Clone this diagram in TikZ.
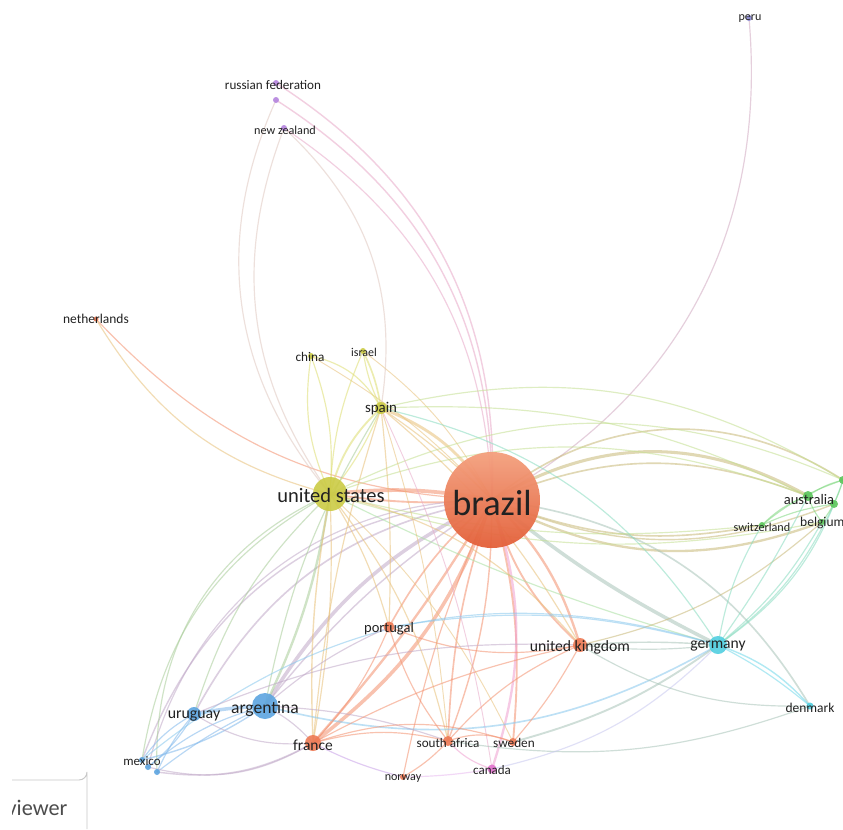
\documentclass[tikz,border=0pt]{standalone}
\usepackage{fontspec}
\setmainfont{Carlito}
\pgfdeclarelayer{back}
\pgfdeclarelayer{bg}
\pgfsetlayers{back,bg,main}
\definecolor{cO}{HTML}{EE7A55}
\definecolor{cOt}{HTML}{F4A07E}
\definecolor{cOb}{HTML}{E35F38}
\definecolor{cY}{HTML}{CBCB45}
\definecolor{cB}{HTML}{5DA5E0}
\definecolor{cC}{HTML}{52CFE0}
\definecolor{cG}{HTML}{5CC65C}
\definecolor{cP}{HTML}{B585DE}
\definecolor{cK}{HTML}{E272CE}
\definecolor{cL}{HTML}{8C8CD8}
\definecolor{eO}{HTML}{F4906E}
\definecolor{eY}{HTML}{DEDE70}
\definecolor{eB}{HTML}{80B8EC}
\definecolor{eC}{HTML}{70D8EA}
\definecolor{eG}{HTML}{80D880}
\definecolor{eP}{HTML}{C8A0E8}
\definecolor{eOY}{HTML}{E8C078}
\definecolor{eOB}{HTML}{C0A8C8}
\definecolor{eOC}{HTML}{A8C4B8}
\definecolor{eOG}{HTML}{C8B878}
\definecolor{eOP}{HTML}{E8A8C8}
\definecolor{eYB}{HTML}{A8CC98}
\definecolor{eYG}{HTML}{C4E090}
\definecolor{eYC}{HTML}{A8E0A0}
\definecolor{eYP}{HTML}{E0C8C0}
\definecolor{eCG}{HTML}{88DCC0}
\definecolor{eBC}{HTML}{88C8EE}
\definecolor{eOK}{HTML}{F0A0D0}
\definecolor{ePK}{HTML}{E8B8F0}
\definecolor{eKC}{HTML}{C8C8F0}
\definecolor{eLO}{HTML}{D0A8C0}
\definecolor{txt}{HTML}{222222}
\tikzset{
  e/.style 2 args={draw=#1, line width=#2pt, draw opacity=0.55},
  nd/.style={circle, inner sep=0pt, fill opacity=0.9},
  lbl/.style={inner sep=0pt, text=txt},
}
\newcommand{\fs}[1]{\fontsize{#1}{#1}\selectfont}
\begin{document}
\begin{tikzpicture}[x=0.03cm, y=-0.03cm]
\useasboundingbox (0,0) rectangle (843,829);
\begin{pgfonlayer}{back}
\fill[white] (0,0) rectangle (843,829);
\end{pgfonlayer}
% nodes
\node[nd, top color=cOt, bottom color=cOb, fill opacity=0.95, minimum size=2.88cm] (br) at (492,500) {};
\node[nd, fill=cY, minimum size=1.02cm] (us) at (330,494) {};
\node[nd, fill=cY, minimum size=0.36cm] (sp) at (381,408) {};
\node[nd, fill=cY, minimum size=0.18cm] (cn) at (311,356) {};
\node[nd, fill=cY, minimum size=0.18cm] (il) at (363,351) {};
\node[nd, fill=cO, minimum size=0.15cm] (nl) at (96,319) {};
\node[nd, fill=cP, minimum size=0.18cm] (rf) at (276,83) {};
\node[nd, fill=cP, minimum size=0.18cm] (rfb) at (276,100) {};
\node[nd, fill=cP, minimum size=0.18cm] (nz) at (284,128) {};
\node[nd, fill=cL, minimum size=0.18cm] (pe) at (749,18) {};
\node[nd, fill=cG, minimum size=0.3cm] (au) at (808,496) {};
\node[nd, fill=cG, minimum size=0.18cm] (be) at (822,522) {};
\node[nd, fill=cG, minimum size=0.24cm] (bb) at (834,504) {};
\node[nd, fill=cG, minimum size=0.24cm] (bx) at (843,480) {};
\node[nd, fill=cG, minimum size=0.18cm] (ch) at (762,525) {};
\node[nd, fill=cC, minimum size=0.54cm] (de) at (718,645) {};
\node[nd, fill=cC, minimum size=0.21cm] (dk) at (810,706) {};
\node[nd, fill=cO, minimum size=0.42cm] (uk) at (580,645) {};
\node[nd, fill=cO, minimum size=0.33cm] (pt) at (389,627) {};
\node[nd, fill=cB, minimum size=0.78cm] (ar) at (265,706) {};
\node[nd, fill=cB, minimum size=0.42cm] (uy) at (194,714) {};
\node[nd, fill=cB, minimum size=0.18cm] (mx) at (142,760) {};
\node[nd, fill=cB, minimum size=0.18cm] (mxb) at (148,767) {};
\node[nd, fill=cB, minimum size=0.18cm] (mxc) at (157,772) {};
\node[nd, fill=cO, minimum size=0.48cm] (fr) at (313,743) {};
\node[nd, fill=cO, minimum size=0.3cm] (za) at (448,741) {};
\node[nd, fill=cO, minimum size=0.24cm] (se) at (513,742) {};
\node[nd, fill=cK, minimum size=0.27cm] (ca) at (492,769) {};
\node[nd, fill=cO, minimum size=0.18cm] (no) at (403,777) {};
% edges
\begin{pgfonlayer}{bg}
% brazil
\draw[e={eO}{3.2}] (us.center) to[bend left=8] (br.center);
\draw[e={eO}{1.6}] (us.center) to[bend right=6] (br.center);
\draw[e={eOY}{2.4}] (sp.center) to[bend left=18] (br.center);
\draw[e={eOY}{1}] (sp.center) to[bend left=5] (br.center);
\draw[e={eOY}{0.8}] (cn.center) to[bend left=8] (br.center);
\draw[e={eOY}{0.8}] (il.center) to[bend left=12] (br.center);
\draw[e={eOP}{1.2}] (rf.center) to[bend left=30] (br.center);
\draw[e={eOP}{1.2}] (rfb.center) to[bend left=29] (br.center);
\draw[e={eOP}{1}] (nz.center) to[bend left=27] (br.center);
\draw[e={eLO}{1}] (br.center) to[bend right=33] (pe.center);
\draw[e={eO}{1}] (nl.center) to[bend right=22] (br.center);
\draw[e={eOG}{2.6}] (br.center) to[bend left=30] (au.center);
\draw[e={eOG}{1.4}] (br.center) to[bend left=36] (bx.center);
\draw[e={eOG}{1.4}] (br.center) to[bend left=22] (au.center);
\draw[e={eOG}{2}] (br.center) to[bend right=24] (be.center);
\draw[e={eOG}{1.4}] (br.center) to[bend right=16] (ch.center);
\draw[e={eOG}{1.2}] (br.center) to[bend right=22] (bb.center);
\draw[e={eOC}{3}] (br.center) to[bend right=6] (de.center);
\draw[e={eOC}{1.4}] (br.center) to[bend left=26] (dk.center);
\draw[e={eO}{2}] (br.center) to[bend left=14] (uk.center);
\draw[e={eO}{1.6}] (br.center) to[bend right=16] (uk.center);
\draw[e={eO}{1.4}] (br.center) to[bend right=10] (pt.center);
\draw[e={eOB}{3}] (br.center) to[bend right=16] (ar.center);
\draw[e={eOB}{1.2}] (br.center) to[bend right=9] (ar.center);
\draw[e={eOB}{1.4}] (br.center) to[bend right=26] (uy.center);
\draw[e={eOB}{1.2}] (br.center) to[bend right=33] (mx.center);
\draw[e={eOB}{1}] (br.center) to[bend right=38] (mxb.center);
\draw[e={eO}{3}] (fr.center) to[bend right=16] (br.center);
\draw[e={eO}{2}] (fr.center) to[bend right=5] (br.center);
\draw[e={eO}{1.4}] (br.center) to[bend right=8] (za.center);
\draw[e={eO}{1.2}] (br.center) to[bend left=10] (za.center);
\draw[e={eO}{1.6}] (br.center) to[bend left=10] (se.center);
\draw[e={eOK}{2}] (br.center) to[bend left=18] (ca.center);
\draw[e={eO}{1}] (br.center) to[bend right=6] (no.center);
% united states, spain, asia
\draw[e={eY}{1}] (cn.center) to[bend right=16] (us.center);
\draw[e={eY}{1}] (cn.center) to[bend left=12] (us.center);
\draw[e={eY}{1}] (cn.center) to[bend left=24] (sp.center);
\draw[e={eY}{1.4}] (il.center) to[bend left=8] (sp.center);
\draw[e={eY}{1}] (il.center) to[bend right=8] (sp.center);
\draw[e={eY}{1}] (il.center) to[bend right=10] (us.center);
\draw[e={eY}{1.6}] (sp.center) to[bend right=16] (us.center);
\draw[e={eY}{1}] (sp.center) to[bend left=8] (us.center);
\draw[e={eYP}{1}] (nz.center) to[bend left=28] (sp.center);
\draw[e={eYP}{1}] (rfb.center) to[bend right=32] (us.center);
\draw[e={eYP}{1}] (nz.center) to[bend right=28] (us.center);
\draw[e={eOY}{1}] (nl.center) to[bend right=22] (us.center);
\draw[e={eYG}{1}] (us.center) to[bend left=20] (au.center);
\draw[e={eYG}{1}] (us.center) to[bend left=25] (bx.center);
\draw[e={eYG}{1}] (us.center) to[bend right=14] (be.center);
\draw[e={eYG}{1}] (us.center) to[bend right=10] (ch.center);
\draw[e={eYG}{1}] (sp.center) to[bend left=14] (au.center);
\draw[e={eYG}{1}] (sp.center) to[bend left=22] (bx.center);
\draw[e={eCG}{1}] (sp.center) to[bend left=22] (de.center);
\draw[e={eYC}{1}] (us.center) to[bend right=5] (de.center);
\draw[e={eYB}{2}] (us.center) to[bend left=8] (ar.center);
\draw[e={eYB}{1}] (us.center) to[bend right=14] (uy.center);
\draw[e={eYB}{1}] (us.center) to[bend right=26] (mx.center);
\draw[e={eYB}{1}] (us.center) to[bend right=34] (mxc.center);
\draw[e={eOY}{1.2}] (us.center) to[bend right=6] (fr.center);
\draw[e={eOY}{1}] (us.center) to[bend left=6] (fr.center);
\draw[e={eOY}{1}] (us.center) to[bend left=8] (pt.center);
\draw[e={eOY}{1}] (us.center) to[bend left=12] (za.center);
\draw[e={eOY}{1}] (us.center) to[bend left=18] (uk.center);
\draw[e={eOY}{0.8}] (us.center) to[bend left=10] (se.center);
\draw[e={eYB}{1}] (sp.center) to[bend right=10] (ar.center);
\draw[e={eOY}{1}] (sp.center) to[bend right=6] (fr.center);
\draw[e={eOY}{1}] (sp.center) to[bend left=4] (pt.center);
\draw[e={eOY}{1}] (sp.center) to[bend left=10] (uk.center);
\draw[e={eOY}{0.8}] (sp.center) to[bend left=6] (za.center);
\draw[e={eOP}{0.8}] (sp.center) to[bend left=8] (ca.center);
% latin america
\draw[e={eB}{3}] (uy.center) to[bend left=4] (ar.center);
\draw[e={eB}{1.2}] (ar.center) to[bend left=10] (mx.center);
\draw[e={eB}{1}] (ar.center) to[bend right=12] (mxb.center);
\draw[e={eB}{1}] (ar.center) to[bend right=6] (mxc.center);
\draw[e={eB}{1}] (uy.center) to[bend right=12] (mx.center);
\draw[e={eB}{1}] (uy.center) to[bend left=10] (mxb.center);
\draw[e={eB}{1}] (uy.center) to[bend right=8] (mxc.center);
\draw[e={eOB}{1}] (ar.center) to[bend left=10] (fr.center);
\draw[e={eOB}{1}] (uy.center) to[bend right=18] (fr.center);
\draw[e={eOB}{1.2}] (mxc.center) to[bend right=18] (fr.center);
\draw[e={eOB}{1}] (mxb.center) to[bend right=22] (fr.center);
\draw[e={eBC}{1.4}] (ar.center) to[bend right=22] (de.center);
\draw[e={eBC}{1}] (mx.center) to[bend left=28] (de.center);
\draw[e={eOB}{1}] (ar.center) to[bend left=8] (pt.center);
\draw[e={eOB}{1}] (uy.center) to[bend left=12] (uk.center);
\draw[e={eOB}{1}] (ar.center) to[bend left=8] (za.center);
% europe
\draw[e={eO}{1}] (fr.center) to[bend right=10] (pt.center);
\draw[e={eO}{1}] (fr.center) to[bend left=14] (za.center);
\draw[e={eO}{1}] (fr.center) to[bend left=8] (uk.center);
\draw[e={eO}{1}] (fr.center) to[bend left=18] (se.center);
\draw[e={eP}{1}] (fr.center) to[bend right=6] (no.center);
\draw[e={ePK}{1}] (no.center) to[bend right=4] (ca.center);
\draw[e={eO}{1}] (pt.center) to[bend right=16] (uk.center);
\draw[e={eO}{1}] (pt.center) to[bend right=10] (za.center);
\draw[e={eO}{1}] (za.center) to[bend left=12] (uk.center);
\draw[e={eO}{1}] (za.center) to[bend left=20] (se.center);
\draw[e={eOK}{1}] (za.center) to[bend right=14] (ca.center);
\draw[e={eO}{1}] (za.center) to[bend left=8] (no.center);
\draw[e={eO}{1}] (se.center) to[bend right=6] (uk.center);
\draw[e={eOC}{1.6}] (se.center) to[bend right=10] (de.center);
\draw[e={eOC}{1}] (za.center) to[bend right=14] (dk.center);
\draw[e={eKC}{1}] (ca.center) to[bend right=16] (de.center);
\draw[e={eOC}{1.2}] (uk.center) to[bend left=4] (de.center);
\draw[e={eOC}{1}] (uk.center) to[bend right=6] (de.center);
\draw[e={eOC}{1}] (uk.center) to[bend right=16] (dk.center);
\draw[e={eOG}{1}] (uk.center) to[bend right=14] (be.center);
\draw[e={eBC}{1}] (pt.center) to[bend left=12] (de.center);
\draw[e={eC}{1.2}] (de.center) to[bend left=14] (dk.center);
\draw[e={eC}{1}] (de.center) to[bend left=6] (dk.center);
\draw[e={eCG}{1}] (de.center) to[bend left=10] (ch.center);
\draw[e={eCG}{1}] (de.center) to[bend right=4] (au.center);
\draw[e={eCG}{1}] (de.center) to[bend right=10] (be.center);
\draw[e={eCG}{1}] (de.center) to[bend right=14] (bb.center);
\draw[e={eCG}{1}] (de.center) to[bend right=18] (bx.center);
\draw[e={eG}{1}] (ch.center) to[bend left=12] (au.center);
\draw[e={eG}{1}] (ch.center) to[bend left=8] (bb.center);
\draw[e={eG}{1}] (ch.center) to[bend left=10] (bx.center);
\draw[e={eG}{1}] (au.center) to[bend left=10] (bx.center);
\draw[e={eG}{1}] (au.center) to[bend right=10] (be.center);
\draw[e={eG}{1}] (be.center) to[bend right=10] (bx.center);
\end{pgfonlayer}
% labels
\node[lbl, font=\fs{31}] (brL) at (492,503) {brazil};
\node[lbl, font=\fs{17.5}] (usL) at (331,495) {united states};
\node[lbl, font=\fs{12.7}] (spL) at (381,409) {spain};
\node[lbl, font=\fs{11.3}] (cnL) at (310,357) {china};
\node[lbl, font=\fs{10.2}] (ilL) at (364,352) {israel};
\node[lbl, font=\fs{11.5}] (nlL) at (96,319) {netherlands};
\node[lbl, font=\fs{11.2}] (rfL) at (273,85) {russian federation};
\node[lbl, font=\fs{10.4}] (nzL) at (285,130) {new zealand};
\node[lbl, font=\fs{10.3}] (peL) at (750,19) {peru};
\node[lbl, font=\fs{12.4}] (auL) at (809,499) {australia};
\node[lbl, font=\fs{11.5}, anchor=west] (beL) at (800,523) {belgium};
\node[lbl, font=\fs{10.4}] (chL) at (762,527) {switzerland};
\node[lbl, font=\fs{13.3}] (deL) at (718,646) {germany};
\node[lbl, font=\fs{11.5}] (dkL) at (810,708) {denmark};
\node[lbl, font=\fs{13.4}] (ukL) at (580,647) {united kingdom};
\node[lbl, font=\fs{12.4}] (ptL) at (389,629) {portugal};
\node[lbl, font=\fs{15}] (arL) at (265,709) {argentina};
\node[lbl, font=\fs{13.5}] (uyL) at (194,716) {uruguay};
\node[lbl, font=\fs{11}] (mxL) at (142,761) {mexico};
\node[lbl, font=\fs{13.2}] (frL) at (313,745) {france};
\node[lbl, font=\fs{11.2}] (zaL) at (448,743) {south africa};
\node[lbl, font=\fs{11.3}] (seL) at (514,743) {sweden};
\node[lbl, font=\fs{11.1}] (caL) at (492,770) {canada};
\node[lbl, font=\fs{10.3}] (noL) at (403,779) {norway};
% viewer box
\draw[black!22, line width=0.8pt] (12,780) -- (79,780) arc[start angle=90, end angle=0, radius=8] -- (87,829);
\begin{scope}
\clip (12,785) rectangle (86,829);
\node[lbl, font=\fs{19}, text=black!70] (vw) at (37,808) {viewer};
\end{scope}
\end{tikzpicture}
\end{document}
